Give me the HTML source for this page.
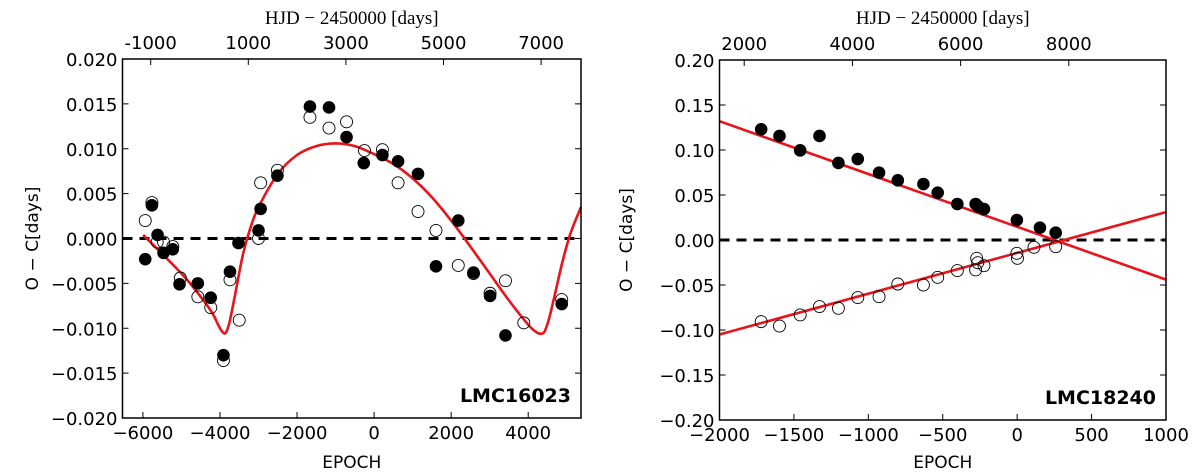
<!DOCTYPE html>
<html><head><meta charset="utf-8"><style>
html,body{margin:0;padding:0;background:#fff;}
svg{display:block;font-family:"DejaVu Sans","Liberation Sans",sans-serif;}
</style></head><body>
<svg id="fig" width="1200" height="476" viewBox="0 0 1200 476" xmlns="http://www.w3.org/2000/svg"></svg>
<script>
// ---- Left panel data (LMC16023) ----
const L_filledEpoch=[-5940,-5767,-5620,-5465,-5225,-5050,-4575,-4240,-3910,-3740,-3520,-3000,-2945,-2510,-1665,-1170,-715,-268,216,622,1140,2185,1606,2580,3010,3410,4870];
const L_filledOC=[-0.0023,0.0037,0.0004,-0.0016,-0.0012,-0.0051,-0.005,-0.0066,-0.013,-0.0037,-0.0005,0.0009,0.0033,0.007,0.0147,0.0146,0.0113,0.0084,0.0093,0.0086,0.0072,0.002,-0.0031,-0.0038,-0.0064,-0.0108,-0.0073];
const L_openEpoch=[-5940,-5767,-5630,-5465,-5225,-5030,-4575,-4240,-3910,-3740,-3500,-3000,-2945,-2510,-1665,-1170,-715,-250,216,622,1140,1606,2185,2580,3010,3410,3885,4870];
const L_openOC=[0.002,0.004,-0.0004,-0.0004,-0.0009,-0.0044,-0.0065,-0.0077,-0.0136,-0.0046,-0.0091,0,0.0062,0.0076,0.0135,0.0123,0.013,0.0098,0.0099,0.0062,0.003,0.0009,-0.003,-0.0039,-0.0061,-0.0047,-0.0094,-0.0068];
const L_fitEpoch=[-5995,-5000,-4500,-4200,-4050,-3940,-3850,-3750,-3600,-3400,-3200,-3000,-2500,-2000,-1500,-1000,-500,0,500,1000,1500,2000,2500,3000,3500,4000,4200,4300,4420,4550,4700,4900,5100,5370];
const L_fitOC=[0.0004,-0.0039,-0.0065,-0.0083,-0.0096,-0.0104,-0.0105,-0.0093,-0.0061,-0.0017,0.0013,0.0035,0.0072,0.0093,0.0103,0.0106,0.0103,0.0094,0.0083,0.0067,0.0046,0.002,-0.0009,-0.0039,-0.0069,-0.0096,-0.0104,-0.0106,-0.0104,-0.0088,-0.0061,-0.0024,0.0006,0.0035];
const L_xTicks=[-6000,-4000,-2000,0,2000,4000];
const L_yTicks=[0.02,0.015,0.01,0.005,0,-0.005,-0.01,-0.015,-0.02];
const L_topTicks=[-1000,1000,3000,5000,7000];
// ---- Right panel data (LMC18240) ----
const R_filledEpoch=[-1720,-1597,-1458,-1328,-1201,-1071,-928,-802,-630,-534,-402,-279,-261,-223,-2,153,259];
const R_filledOC=[0.123,0.1156,0.0996,0.1156,0.0856,0.09,0.0748,0.0663,0.0622,0.0526,0.04,0.04,0.037,0.0344,0.0222,0.0137,0.0081];
const R_openEpoch=[-1720,-1597,-1458,-1328,-1201,-1071,-928,-802,-630,-534,-402,-279,-272,-265,-223,-2,2,113,259];
const R_openOC=[-0.0907,-0.0956,-0.0833,-0.074,-0.0759,-0.064,-0.063,-0.0489,-0.05,-0.0415,-0.034,-0.0333,-0.0204,-0.0252,-0.0285,-0.0148,-0.0204,-0.0081,-0.0074];
const R_fitEpoch=[-2000,1000];
const R_fit1OC=[0.132,-0.044];
const R_fit2OC=[-0.105,0.031];
const R_xTicks=[-2000,-1500,-1000,-500,0,500,1000];
const R_yTicks=[0.2,0.15,0.1,0.05,0,-0.05,-0.1,-0.15,-0.2];
const R_topTicks=[2000,4000,6000,8000];

const NS="http://www.w3.org/2000/svg";
const svg=document.getElementById('fig');
function mk(tag,attrs,parent,text){const e=document.createElementNS(NS,tag);for(const k in attrs)e.setAttribute(k,attrs[k]);if(text!==undefined)e.textContent=text;(parent||svg).appendChild(e);return e;}
function fmtMinus(s){return String(s).replace('-','\u2212');}
function smoothPath(pts){
  if(pts.length<3)return pts.map((p,i)=>(i?'L':'M')+p[0].toFixed(1)+','+p[1].toFixed(1)).join(' ');
  let d='M'+pts[0][0].toFixed(1)+','+pts[0][1].toFixed(1);
  for(let i=0;i<pts.length-1;i++){
    const p0=pts[i-1]||pts[i],p1=pts[i],p2=pts[i+1],p3=pts[i+2]||p2;
    const c1=[p1[0]+(p2[0]-p0[0])/6,p1[1]+(p2[1]-p0[1])/6];
    const c2=[p2[0]-(p3[0]-p1[0])/6,p2[1]-(p3[1]-p1[1])/6];
    d+=' C'+c1[0].toFixed(1)+','+c1[1].toFixed(1)+' '+c2[0].toFixed(1)+','+c2[1].toFixed(1)+' '+p2[0].toFixed(1)+','+p2[1].toFixed(1);
  }
  return d;
}

function panel(cfg){
  const g=mk('g',{});
  
  
  const {x0,x1,y0,y1,xmin,xmax,ymin,ymax}=cfg;
  const X=v=>x0+(v-xmin)/(xmax-xmin)*(x1-x0);
  const Y=v=>y1-(v-ymin)/(ymax-ymin)*(y1-y0);
  const TX=v=>cfg.topA+cfg.topB*v;
  const z=mk('line',{x1:x0,x2:x1,y1:Y(0),y2:Y(0),stroke:'#000','stroke-width':3,'stroke-dasharray':'10,7'},g);
  
  
  cfg.fits.forEach((f,i)=>{
    const pts=f.ex.map((e,j)=>[X(e),Y(f.oc[j])]);
    const p=mk('path',{d:smoothPath(pts),fill:'none',stroke:'#e8141b','stroke-width':2.6,'stroke-linejoin':'round'},g);
    
    
  });
  cfg.open.ex.forEach((e,i)=>{
    const c=mk('circle',{cx:X(e),cy:Y(cfg.open.oc[i]),r:6,fill:'none',stroke:'#000','stroke-width':0.9},g);
    
    
  });
  cfg.filled.ex.forEach((e,i)=>{
    const c=mk('circle',{cx:X(e),cy:Y(cfg.filled.oc[i]),r:6.3,fill:'#000'},g);
    
    
  });
  const fr=mk('rect',{x:x0,y:y0,width:x1-x0,height:y1-y0,fill:'none',stroke:'#000','stroke-width':1.5},g);
  
  
  cfg.xTicks.forEach(t=>{
    const x=X(t);
    mk('line',{x1:x,x2:x,y1:y1,y2:y1-6,stroke:'#000'},g);
    const tl=mk('text',{x:x,y:y1+21,'text-anchor':'middle','font-size':18},g,fmtMinus(t));
    
    
  });
  cfg.yTicks.forEach(t=>{
    const y=Y(t);
    mk('line',{x1:x0,x2:x0+6,y1:y,y2:y,stroke:'#000'},g);
    mk('line',{x1:x1,x2:x1-6,y1:y,y2:y,stroke:'#000'},g);
    const tl=mk('text',{x:x0-5,y:y+7,'text-anchor':'end','font-size':18},g,fmtMinus(t.toFixed(cfg.dec)));
    
    
  });
  cfg.topTicks.forEach(t=>{
    const x=TX(t);
    mk('line',{x1:x,x2:x,y1:y0,y2:y0+6,stroke:'#000'},g);
    const tl=mk('text',{x:x,y:y0-10,'text-anchor':'middle','font-size':18},g,String(t));
    
    
  });
  const xl=mk('text',{x:(x0+x1)/2,y:468,'text-anchor':'middle','font-size':17},g,'EPOCH');
  
  
  const tt=mk('text',{x:(x0+x1)/2,y:24,'text-anchor':'middle','font-size':19,'font-family':'"Liberation Serif",serif'},g,'HJD \u2212 2450000 [days]');
  
  
  const yl=mk('text',{x:cfg.ylx,y:(y0+y1)/2,'text-anchor':'middle','font-size':17,transform:`rotate(-90 ${cfg.ylx} ${(y0+y1)/2})`},g,'O \u2212 C[days]');
  
  
  const lab=mk('text',{x:x1-10,y:y1-16,'text-anchor':'end','font-size':19,'font-weight':'bold'},g,cfg.label);
  
  
}

panel({name:'left-panel-lmc16023',x0:122.5,x1:581,y0:59,y1:418,xmin:-6530,xmax:5370,ymin:-0.02,ymax:0.02,dec:3,
  topA:199.5,topB:0.0488,ylx:38,label:'LMC16023',
  xTicks:L_xTicks,yTicks:L_yTicks,topTicks:L_topTicks,
  filled:{ex:L_filledEpoch,oc:L_filledOC},open:{ex:L_openEpoch,oc:L_openOC},
  fits:[{ex:L_fitEpoch,oc:L_fitOC}]});
panel({name:'right-panel-lmc18240',x0:719.5,x1:1166,y0:60,y1:420,xmin:-2000,xmax:1000,ymin:-0.2,ymax:0.2,dec:2,
  topA:636,topB:0.0541,ylx:632,label:'LMC18240',
  xTicks:R_xTicks,yTicks:R_yTicks,topTicks:R_topTicks,
  filled:{ex:R_filledEpoch,oc:R_filledOC},open:{ex:R_openEpoch,oc:R_openOC},
  fits:[{ex:R_fitEpoch,oc:R_fit1OC},{ex:R_fitEpoch,oc:R_fit2OC}]});
</script>
</body></html>
